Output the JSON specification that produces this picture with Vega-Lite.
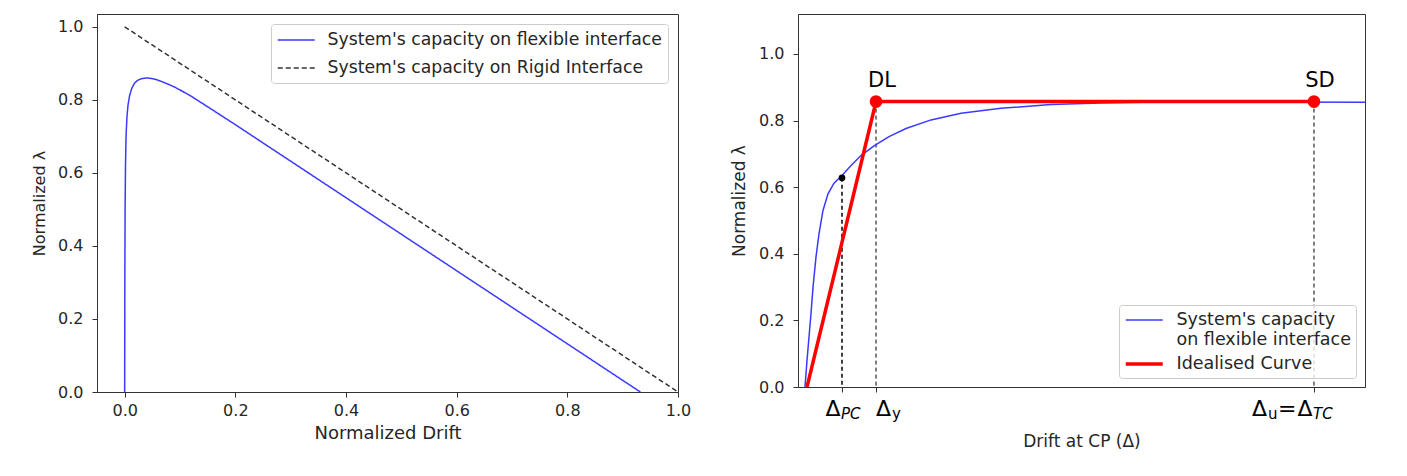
{
  "$schema": "https://vega.github.io/schema/vega-lite/v6.json",
  "background": "white",
  "padding": {"left": 31, "top": 13, "right": 5, "bottom": 5},
  "spacing": 120,
  "bounds": "flush",
  "resolve": {
    "scale": {"color": "independent", "strokeDash": "independent", "strokeWidth": "independent", "x": "independent", "y": "independent"},
    "legend": {"color": "independent", "strokeDash": "independent", "strokeWidth": "independent"}
  },
  "config": {
    "font": "DejaVu Sans",
    "view": {"stroke": "#333", "strokeWidth": 1},
    "axis": {"grid": false, "domainColor": "#333", "tickColor": "#333", "labelColor": "#262626", "titleColor": "#262626", "labelFont": "DejaVu Sans", "titleFont": "DejaVu Sans", "labelFontSize": 16, "titleFontSize": 17, "titleFontWeight": "normal", "tickSize": 5, "tickWidth": 1, "domainWidth": 1, "labelFlush": false, "labelOverlap": false},
    "axisX": {"labelPadding": 5, "titlePadding": 6},
    "axisY": {"labelPadding": 9, "titlePadding": 10},
    "legend": {"title": null, "labelFont": "DejaVu Sans", "labelFontSize": 17.3, "labelColor": "#262626", "symbolType": "M-1,0H3", "symbolSize": 342, "symbolFillColor": "transparent", "labelOffset": 30.5, "padding": 6, "rowPadding": 9, "strokeColor": "#cccccc", "cornerRadius": 3, "fillColor": "rgba(255,255,255,0.8)", "labelLimit": 500}
  },
  "hconcat": [
    {
      "width": 581,
      "height": 378,
      "data": {"values": [
        {"series": "System's capacity on flexible interface", "d": 0, "v": 0},
        {"series": "System's capacity on flexible interface", "d": 0.0003, "v": 0.3},
        {"series": "System's capacity on flexible interface", "d": 0.0008, "v": 0.5},
        {"series": "System's capacity on flexible interface", "d": 0.0015, "v": 0.62},
        {"series": "System's capacity on flexible interface", "d": 0.0025, "v": 0.7},
        {"series": "System's capacity on flexible interface", "d": 0.004, "v": 0.75},
        {"series": "System's capacity on flexible interface", "d": 0.006, "v": 0.785},
        {"series": "System's capacity on flexible interface", "d": 0.009, "v": 0.812},
        {"series": "System's capacity on flexible interface", "d": 0.013, "v": 0.832},
        {"series": "System's capacity on flexible interface", "d": 0.018, "v": 0.846},
        {"series": "System's capacity on flexible interface", "d": 0.024, "v": 0.854},
        {"series": "System's capacity on flexible interface", "d": 0.031, "v": 0.858},
        {"series": "System's capacity on flexible interface", "d": 0.04, "v": 0.86},
        {"series": "System's capacity on flexible interface", "d": 0.05, "v": 0.858},
        {"series": "System's capacity on flexible interface", "d": 0.06, "v": 0.854},
        {"series": "System's capacity on flexible interface", "d": 0.07, "v": 0.848},
        {"series": "System's capacity on flexible interface", "d": 0.08, "v": 0.842},
        {"series": "System's capacity on flexible interface", "d": 0.09, "v": 0.835},
        {"series": "System's capacity on flexible interface", "d": 0.1, "v": 0.827},
        {"series": "System's capacity on flexible interface", "d": 0.12, "v": 0.81},
        {"series": "System's capacity on flexible interface", "d": 0.15, "v": 0.781},
        {"series": "System's capacity on flexible interface", "d": 0.2, "v": 0.732},
        {"series": "System's capacity on flexible interface", "d": 0.3, "v": 0.632},
        {"series": "System's capacity on flexible interface", "d": 0.4, "v": 0.532},
        {"series": "System's capacity on flexible interface", "d": 0.5, "v": 0.432},
        {"series": "System's capacity on flexible interface", "d": 0.6, "v": 0.332},
        {"series": "System's capacity on flexible interface", "d": 0.7, "v": 0.232},
        {"series": "System's capacity on flexible interface", "d": 0.8, "v": 0.132},
        {"series": "System's capacity on flexible interface", "d": 0.9, "v": 0.032},
        {"series": "System's capacity on flexible interface", "d": 0.932, "v": 0},
        {"series": "System's capacity on Rigid Interface", "d": 0, "v": 1},
        {"series": "System's capacity on Rigid Interface", "d": 1, "v": 0}
      ]},
      "mark": {"type": "line", "strokeWidth": 1.5, "clip": true},
      "encoding": {
        "x": {"field": "d", "type": "quantitative", "scale": {"domain": [-0.05, 1.0], "nice": false, "zero": false}, "axis": {"title": "Normalized Drift", "titleFontSize": 18, "values": [0, 0.2, 0.4, 0.6, 0.8, 1.0], "format": ".1f"}},
        "y": {"field": "v", "type": "quantitative", "scale": {"domain": [0, 1.035], "nice": false}, "axis": {"title": "Normalized λ", "titleFontSize": 16, "values": [0, 0.2, 0.4, 0.6, 0.8, 1.0], "format": ".1f"}},
        "color": {"field": "series", "type": "nominal", "scale": {"domain": ["System's capacity on flexible interface", "System's capacity on Rigid Interface"], "range": ["#3a3aff", "#333333"]}, "legend": {"orient": "top-right", "offset": 10, "symbolStrokeWidth": 1.5}},
        "strokeDash": {"field": "series", "type": "nominal", "scale": {"domain": ["System's capacity on flexible interface", "System's capacity on Rigid Interface"], "range": [[1, 0], [5, 3]]}, "legend": {"orient": "top-right", "offset": 10}}
      }
    },
    {
      "width": 567,
      "height": 373,
      "layer": [
        {
          "data": {"values": [{"x": 13.76, "top": 0.857}, {"x": 91.0, "top": 0.857}]},
          "mark": {"type": "rule", "color": "black", "strokeWidth": 1, "strokeDash": [4, 3]},
          "encoding": {"x": {"field": "x", "type": "quantitative"}, "y": {"field": "top", "type": "quantitative"}, "y2": {"datum": 0}}
        },
        {
          "data": {"values": [{"x": 7.76, "top": 0.628}]},
          "mark": {"type": "rule", "color": "black", "strokeWidth": 1.5, "strokeDash": [4, 3]},
          "encoding": {"x": {"field": "x", "type": "quantitative"}, "y": {"field": "top", "type": "quantitative"}, "y2": {"datum": 0}}
        },
        {
          "data": {"values": [
            {"series": "System's capacity| on flexible interface", "d": 1.23, "v": 0},
            {"series": "System's capacity| on flexible interface", "d": 1.59, "v": 0.08},
            {"series": "System's capacity| on flexible interface", "d": 1.94, "v": 0.15},
            {"series": "System's capacity| on flexible interface", "d": 2.29, "v": 0.22},
            {"series": "System's capacity| on flexible interface", "d": 2.65, "v": 0.3},
            {"series": "System's capacity| on flexible interface", "d": 3.17, "v": 0.39},
            {"series": "System's capacity| on flexible interface", "d": 3.7, "v": 0.46},
            {"series": "System's capacity| on flexible interface", "d": 4.41, "v": 0.53},
            {"series": "System's capacity| on flexible interface", "d": 5.29, "v": 0.58},
            {"series": "System's capacity| on flexible interface", "d": 6.35, "v": 0.612},
            {"series": "System's capacity| on flexible interface", "d": 7.76, "v": 0.635},
            {"series": "System's capacity| on flexible interface", "d": 9.35, "v": 0.665},
            {"series": "System's capacity| on flexible interface", "d": 11.11, "v": 0.695},
            {"series": "System's capacity| on flexible interface", "d": 13.4, "v": 0.724},
            {"series": "System's capacity| on flexible interface", "d": 16.05, "v": 0.752},
            {"series": "System's capacity| on flexible interface", "d": 19.05, "v": 0.776},
            {"series": "System's capacity| on flexible interface", "d": 23.46, "v": 0.802},
            {"series": "System's capacity| on flexible interface", "d": 28.75, "v": 0.822},
            {"series": "System's capacity| on flexible interface", "d": 35.8, "v": 0.837},
            {"series": "System's capacity| on flexible interface", "d": 44.62, "v": 0.848},
            {"series": "System's capacity| on flexible interface", "d": 53.44, "v": 0.853},
            {"series": "System's capacity| on flexible interface", "d": 62.96, "v": 0.856},
            {"series": "System's capacity| on flexible interface", "d": 79.89, "v": 0.856},
            {"series": "System's capacity| on flexible interface", "d": 100, "v": 0.855}
          ]},
          "mark": {"type": "line", "clip": true},
          "encoding": {
            "x": {"field": "d", "type": "quantitative", "scale": {"domain": [0, 100], "nice": false, "zero": false}, "axis": {"title": "Drift at CP (Δ)", "titleFontSize": 17, "values": [7.76, 13.76, 91.0], "labels": false, "titlePadding": 41}},
            "y": {"field": "v", "type": "quantitative", "scale": {"domain": [0, 1.12], "nice": false}, "axis": {"title": "Normalized λ", "titleFontSize": 17, "values": [0, 0.2, 0.4, 0.6, 0.8, 1.0], "format": ".1f"}},
            "color": {"field": "series", "type": "nominal", "scale": {"domain": ["System's capacity| on flexible interface", "Idealised Curve"], "range": ["#3a3aff", "#ff0000"]}, "legend": {"orient": "bottom-right", "offset": 9, "labelExpr": "split(datum.label, '|')", "rowPadding": 5, "labelFontSize": 17.5, "padding": 5}},
            "strokeWidth": {"field": "series", "type": "nominal", "scale": {"domain": ["System's capacity| on flexible interface", "Idealised Curve"], "range": [1.5, 3.5]}, "legend": {"orient": "bottom-right", "offset": 9, "labelExpr": "split(datum.label, '|')", "rowPadding": 5, "labelFontSize": 17.5, "padding": 5}}
          }
        },
        {
          "data": {"values": [
            {"series": "Idealised Curve", "d": 1.59, "v": 0},
            {"series": "Idealised Curve", "d": 13.76, "v": 0.857},
            {"series": "Idealised Curve", "d": 91.0, "v": 0.857}
          ]},
          "mark": {"type": "line", "clip": true},
          "encoding": {
            "x": {"field": "d", "type": "quantitative"},
            "y": {"field": "v", "type": "quantitative"},
            "color": {"field": "series", "type": "nominal"},
            "strokeWidth": {"field": "series", "type": "nominal"}
          }
        },
        {
          "data": {"values": [{"d": 13.76, "v": 0.857}, {"d": 91.0, "v": 0.857}]},
          "mark": {"type": "point", "filled": true, "color": "#ff0000", "size": 160, "opacity": 1},
          "encoding": {"x": {"field": "d", "type": "quantitative"}, "y": {"field": "v", "type": "quantitative"}}
        },
        {
          "data": {"values": [{"d": 7.76, "v": 0.628}]},
          "mark": {"type": "point", "filled": true, "color": "black", "size": 45, "opacity": 1},
          "encoding": {"x": {"field": "d", "type": "quantitative"}, "y": {"field": "v", "type": "quantitative"}}
        },
        {
          "data": {"values": [{"d": 13.76, "v": 0.857, "label": "DL"}, {"d": 91.0, "v": 0.857, "label": "SD"}]},
          "mark": {"type": "text", "fontSize": 21, "color": "black", "align": "center", "baseline": "alphabetic", "dx": 6, "dy": -15},
          "encoding": {"x": {"field": "d", "type": "quantitative"}, "y": {"field": "v", "type": "quantitative"}, "text": {"field": "label"}}
        },
        {
          "data": {"values": [{"d": 7.76, "t": "Δ"}, {"d": 91.0, "t": "Δ"}]},
          "mark": {"type": "text", "fontSize": 22, "color": "black", "align": "right", "baseline": "alphabetic", "dx": -1.5, "dy": 29, "clip": false},
          "encoding": {"x": {"field": "d", "type": "quantitative"}, "y": {"datum": 0}, "text": {"field": "t"}}
        },
        {
          "data": {"values": [{"d": 7.76, "t": "PC"}, {"d": 91.0, "t": "TC"}]},
          "mark": {"type": "text", "fontSize": 15, "fontStyle": "italic", "color": "black", "align": "left", "baseline": "alphabetic", "dx": -1, "dy": 32, "clip": false},
          "encoding": {"x": {"field": "d", "type": "quantitative"}, "y": {"datum": 0}, "text": {"field": "t"}}
        },
        {
          "data": {"values": [{"d": 13.76, "t": "Δ"}]},
          "mark": {"type": "text", "fontSize": 22, "color": "black", "align": "left", "baseline": "alphabetic", "dx": 0, "dy": 29, "clip": false},
          "encoding": {"x": {"field": "d", "type": "quantitative"}, "y": {"datum": 0}, "text": {"field": "t"}}
        },
        {
          "data": {"values": [{"d": 13.76, "t": "y"}]},
          "mark": {"type": "text", "fontSize": 15, "color": "black", "align": "left", "baseline": "alphabetic", "dx": 16, "dy": 32, "clip": false},
          "encoding": {"x": {"field": "d", "type": "quantitative"}, "y": {"datum": 0}, "text": {"field": "t"}}
        },
        {
          "data": {"values": [{"d": 91.0, "t": "Δ"}]},
          "mark": {"type": "text", "fontSize": 22, "color": "black", "align": "left", "baseline": "alphabetic", "dx": -62, "dy": 29, "clip": false},
          "encoding": {"x": {"field": "d", "type": "quantitative"}, "y": {"datum": 0}, "text": {"field": "t"}}
        },
        {
          "data": {"values": [{"d": 91.0, "t": "u"}]},
          "mark": {"type": "text", "fontSize": 15, "color": "black", "align": "left", "baseline": "alphabetic", "dx": -46, "dy": 32, "clip": false},
          "encoding": {"x": {"field": "d", "type": "quantitative"}, "y": {"datum": 0}, "text": {"field": "t"}}
        },
        {
          "data": {"values": [{"d": 91.0, "t": "="}]},
          "mark": {"type": "text", "fontSize": 22, "color": "black", "align": "left", "baseline": "alphabetic", "dx": -36, "dy": 29, "clip": false},
          "encoding": {"x": {"field": "d", "type": "quantitative"}, "y": {"datum": 0}, "text": {"field": "t"}}
        }
      ]
    }
  ]
}
